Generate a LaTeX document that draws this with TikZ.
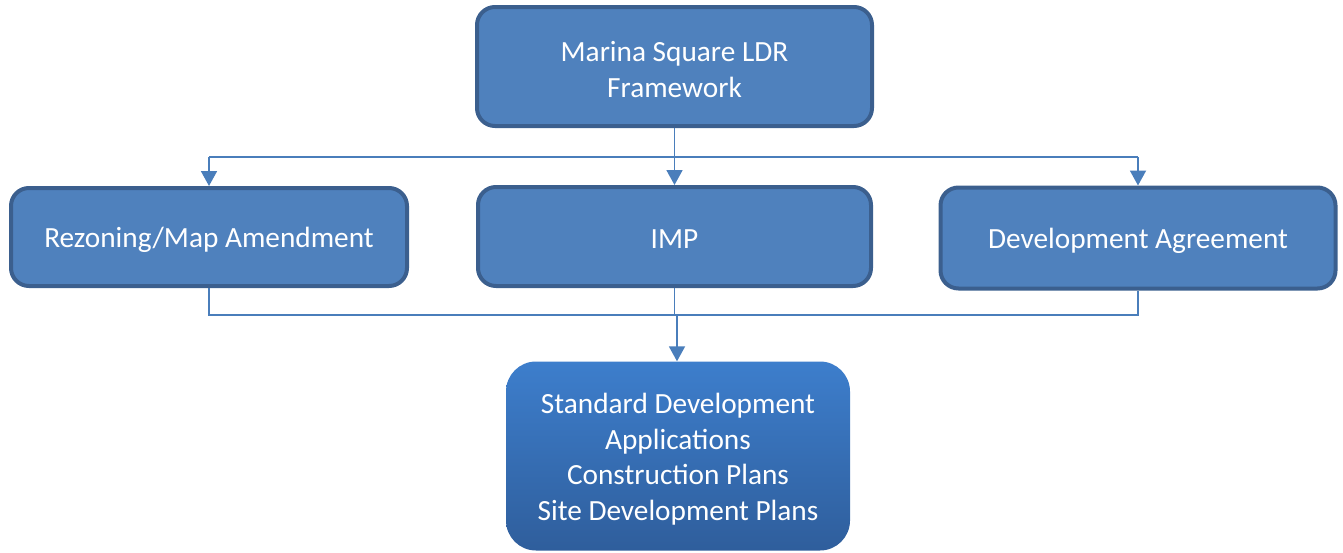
\documentclass[tikz,border=0pt]{standalone}
\usepackage{fontspec}
\setmainfont{Carlito}
\usetikzlibrary{arrows.meta}
\definecolor{boxfill}{HTML}{4F81BD}
\definecolor{boxline}{HTML}{3B5F8E}
\definecolor{conn}{HTML}{4A7EBB}
\definecolor{gradtop}{HTML}{3D7ECC}
\definecolor{gradbot}{HTML}{2F5E9C}
\begin{document}
\begin{tikzpicture}[x=1pt,y=-1pt,
  box/.style={draw=boxline,line width=4pt,fill=boxfill,rounded corners=18pt,inner sep=0pt},
  gradbox/.style={draw=none,top color=gradtop,bottom color=gradbot,rounded corners=30pt,inner sep=0pt},
  txt/.style={text=white,align=center,font=\fontsize{29.3}{35.5}\selectfont,inner sep=0pt,yshift=-3pt},
  link/.style={draw=conn,line width=1.8pt},
  arr/.style={link,-{Triangle[width=16pt,length=15pt]}}]
\useasboundingbox (0,0) rectangle (1343,552);
\node[box,minimum width=395pt,minimum height=119pt] (top) at (674.5,66.5) {};
\node[box,minimum width=396pt,minimum height=98pt] (left) at (209,237) {};
\node[box,minimum width=393pt,minimum height=99pt] (mid) at (674.5,236.5) {};
\node[box,minimum width=395pt,minimum height=101pt] (right) at (1138,238) {};
\node[gradbox,minimum width=344pt,minimum height=189pt] (bot) at (678,456) {};
\node[txt] (toptxt) at (top.center) {Marina Square LDR\\Framework};
\node[txt] (lefttxt) at (left.center) {Rezoning/Map Amendment};
\node[txt] (midtxt) at (mid.center) {IMP};
\node[txt] (righttxt) at (right.center) {Development Agreement};
\node[txt] (bottxt) at (bot.center) {Standard Development\\Applications\\Construction Plans\\Site Development Plans};
\coordinate (hl) at (209,157);
\coordinate (hr) at (1138,157);
\coordinate (bl) at (209,315);
\coordinate (br) at (1138,315);
\coordinate (bm) at (677,315);
\draw[link] (hl) -- (hr);
\draw[arr] (top.south) -- (mid.north);
\draw[arr] (hl) -- (left.north);
\draw[arr] (hr) -- (right.north);
\draw[link] (left.south) -- (bl) -- (br) -- (right.south);
\draw[link] (mid.south) -- (mid.south |- bm);
\draw[arr] (bm) -- (bot.north -| bm);
\end{tikzpicture}
\end{document}
